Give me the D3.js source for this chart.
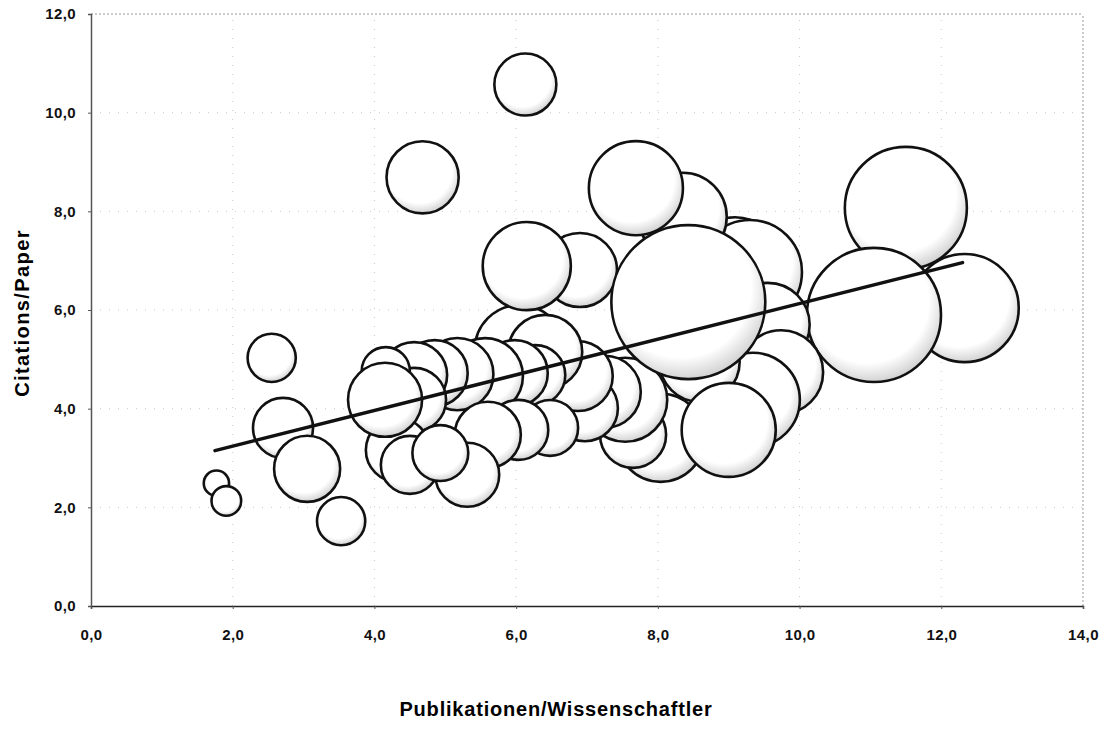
<!DOCTYPE html>
<html>
<head>
<meta charset="utf-8">
<script src="https://cdn.jsdelivr.net/npm/d3@7"></script>
<style>
  body { margin: 0; background: #fff; }
  svg { display: block; }
</style>
</head>
<body>
<div id="chart"></div>
<script>
const width = 1112;
const height = 747;
const marginTop = 14;
const marginBottom = 141;
const marginLeft = 91;
const marginRight = 29;

// bubbles, in drawing order (back to front)
const pubs = [12.33, 11.50, 11.05, 9.09, 9.30, 9.55, 9.74, 9.34, 8.59, 8.04,
    9.00, 7.65, 7.54, 7.25, 6.97, 6.87, 8.35, 7.69, 6.90, 6.05,
    6.41, 6.15, 6.27, 5.98, 5.56, 5.17, 4.85, 4.56, 4.56, 4.16,
    6.48, 6.03, 5.60, 4.33, 4.50, 4.15, 5.31, 4.93, 8.43,
    1.77, 1.91, 2.55, 2.71, 3.05, 3.53, 4.68, 6.13];
const cites = [6.04, 8.07, 5.90, 6.97, 6.77, 5.70, 4.74, 4.18, 4.95, 3.41,
    3.57, 3.47, 4.18, 4.34, 4.01, 4.66, 7.89, 8.47, 6.81, 5.19,
    5.15, 6.89, 4.68, 4.72, 4.66, 4.70, 4.72, 4.68, 4.18, 4.76,
    3.61, 3.57, 3.47, 3.16, 2.86, 4.18, 2.66, 3.10, 6.16,
    2.49, 2.13, 5.03, 3.61, 2.78, 1.72, 8.69, 10.57];
const sizes = [292, 372, 449, 202, 270, 176, 176, 221, 160, 194,
    221, 109, 176, 130, 109, 122, 194, 221, 137, 202,
    137, 194, 90, 109, 144, 130, 109, 109, 102, 58,
    78, 90, 109, 102, 84, 137, 102, 78, 592,
    16, 22, 58, 90, 109, 58, 130, 96];

const trendX = [1.75, 12.3];
const trendY = [3.15, 6.96];

const xTicks = [0, 2, 4, 6, 8, 10, 12, 14];
const yTicks = [0, 2, 4, 6, 8, 10, 12];

const data = pubs.map((p, i) => ({ x: p, y: cites[i], s: sizes[i] }));
const trend = trendX.map((t, i) => ({ x: t, y: trendY[i] }));

const fmt = (d) => d.toFixed(1).replace('.', ',');
const font = '"Liberation Sans", Arial, sans-serif';

const svg = d3.select('#chart')
    .append('svg')
    .attr('width', width)
    .attr('height', height);

const defs = svg.append('defs');
const grad = defs.append('radialGradient')
    .attr('id', 'shade')
    .attr('cx', '45%')
    .attr('cy', '40%')
    .attr('r', '62%');
grad.append('stop').attr('offset', '0%').attr('stop-color', '#ffffff');
grad.append('stop').attr('offset', '74%').attr('stop-color', '#ffffff');
grad.append('stop').attr('offset', '100%').attr('stop-color', '#cdcdcd');

const x = d3.scaleLinear()
    .domain([0, 14])
    .range([marginLeft, width - marginRight]);

const y = d3.scaleLinear()
    .domain([0, 12])
    .range([height - marginBottom, marginTop]);

const r = d3.scaleSqrt()
    .domain([0, 600])
    .range([0, 77.5]);

// dotted grid, the outer ones a bit darker
svg.append('g')
    .selectAll('line')
    .data(yTicks.filter((d) => d > 0))
    .join('line')
    .attr('x1', marginLeft)
    .attr('x2', width - marginRight)
    .attr('y1', (d) => y(d))
    .attr('y2', (d) => y(d))
    .attr('stroke', (d) => (d === 12 ? '#999' : '#c8c8c8'))
    .attr('stroke-width', 1)
    .attr('stroke-dasharray', (d) => (d === 12 ? '2,2' : '1,8'));

svg.append('g')
    .selectAll('line')
    .data(xTicks.filter((d) => d > 0))
    .join('line')
    .attr('x1', (d) => x(d))
    .attr('x2', (d) => x(d))
    .attr('y1', y(0))
    .attr('y2', y(12))
    .attr('stroke', (d) => (d === 14 ? '#999' : '#c8c8c8'))
    .attr('stroke-width', 1)
    .attr('stroke-dasharray', (d) => (d === 14 ? '2,2' : '1,8'));

const xAxis = svg.append('g')
    .attr('class', 'xAxis')
    .attr('transform', `translate(0,${y(0)})`)
    .call(d3.axisBottom(x).tickValues(xTicks).tickFormat(fmt).tickSize(3).tickPadding(20));

const yAxis = svg.append('g')
    .attr('class', 'yAxis')
    .attr('transform', `translate(${marginLeft},0)`)
    .call(d3.axisLeft(y).tickValues(yTicks).tickFormat(fmt).tickSize(3).tickPadding(12));

[xAxis, yAxis].forEach((g) => {
    g.select('.domain').attr('stroke', '#222').attr('stroke-width', 1.5);
    g.selectAll('.tick line').attr('stroke', '#555');
    g.selectAll('text')
        .style('font-family', font)
        .style('font-weight', 'bold')
        .style('font-size', '15px')
        .style('letter-spacing', '0.4px')
        .attr('fill', '#111');
});
yAxis.select('.domain').attr('stroke', '#555');

svg.append('g')
    .selectAll('circle')
    .data(data)
    .join('circle')
    .attr('cx', (d) => x(d.x))
    .attr('cy', (d) => y(d.y))
    .attr('r', (d) => r(d.s))
    .attr('fill', 'url(#shade)')
    .attr('stroke', '#111')
    .attr('stroke-width', 2.6);

svg.append('path')
    .datum(trend)
    .attr('d', d3.line().x((d) => x(d.x)).y((d) => y(d.y)))
    .attr('fill', 'none')
    .attr('stroke', '#111')
    .attr('stroke-width', 3.5)
    .attr('stroke-linecap', 'round');

svg.append('text')
    .attr('class', 'ylabel')
    .attr('x', -313)
    .attr('y', 29)
    .text('Citations/Paper')
    .attr('transform', 'rotate(-90)')
    .style('font-size', '20px')
    .style('font-weight', 'bold')
    .style('letter-spacing', '1.4px')
    .style('text-anchor', 'middle')
    .style('font-family', font);

svg.append('text')
    .attr('class', 'xlabel')
    .attr('x', 556)
    .attr('y', 716)
    .text('Publikationen/Wissenschaftler')
    .style('font-size', '20px')
    .style('font-weight', 'bold')
    .style('letter-spacing', '0.8px')
    .style('text-anchor', 'middle')
    .style('font-family', font);
</script>
</body>
</html>
